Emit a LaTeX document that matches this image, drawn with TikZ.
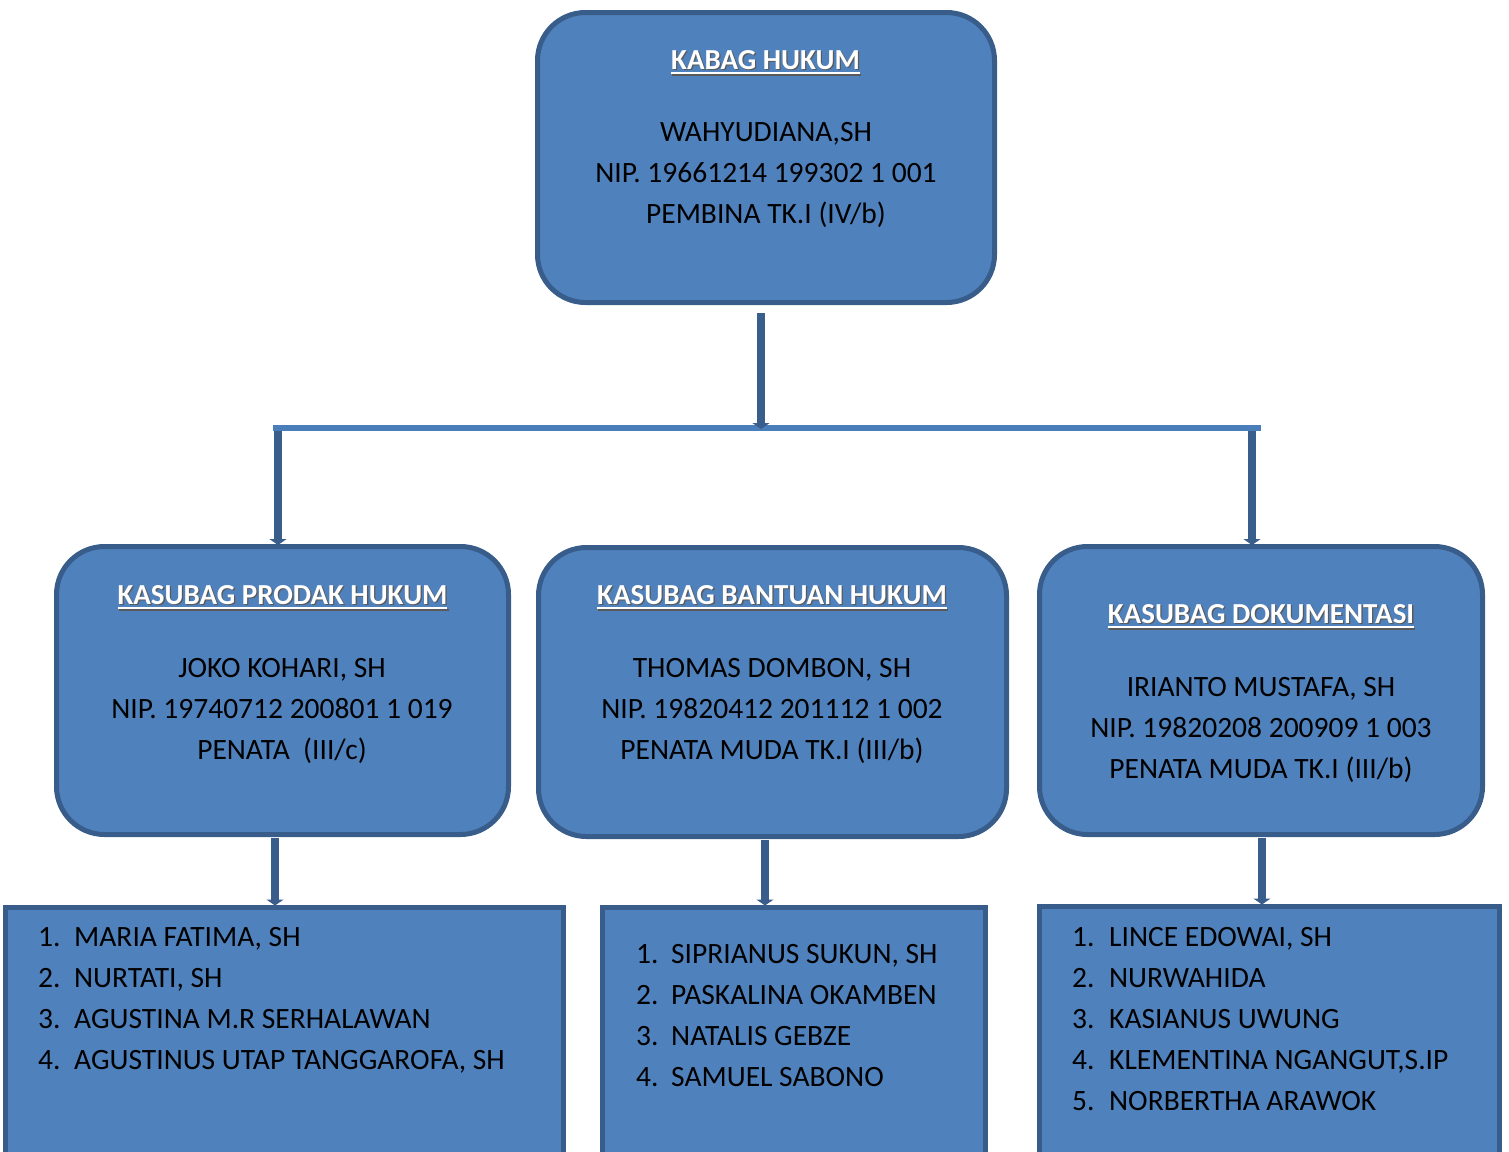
\documentclass[tikz,border=0pt]{standalone}
\usepackage{fontspec}
\setmainfont{Carlito}
\usetikzlibrary{arrows.meta}
\definecolor{boxfill}{HTML}{4F81BD}
\definecolor{boxline}{HTML}{385D8A}
\definecolor{connline}{HTML}{3A5E8B}
\definecolor{hline}{HTML}{4A7EBB}
\newcommand{\myul}[1]{\setbox0\hbox{#1}\rlap{\raisebox{-5pt}{\rule{\wd0}{2pt}}}\box0}
\newcommand{\ttl}[1]{\makebox[0pt][l]{\hspace{1.3pt}\raisebox{-1.3pt}{\color{black!65}\myul{#1}}}{\color{white}\myul{#1}}}
\tikzset{
  rbox/.style={draw=boxline, line width=5pt, fill=boxfill, rounded corners=48pt, inner sep=0pt},
  sbox/.style={draw=boxline, line width=5pt, fill=boxfill, inner sep=0pt},
  txt/.style={font=\fontsize{29.5}{41}\selectfont, align=center, inner sep=0pt, text=black},
  lst/.style={font=\fontsize{29.5}{41}\selectfont, align=left, inner sep=0pt, text=black, anchor=west},
  ttlnode/.style={font=\fontsize{29}{41}\selectfont\bfseries, inner sep=0pt},
  conn/.style={draw=connline, line width=8pt, -{Triangle[width=17pt,length=6pt]}, shorten >=-1pt},
  hbar/.style={draw=hline, line width=6pt}
}
\begin{document}
\begin{tikzpicture}[x=1pt,y=-1pt]
\useasboundingbox (0,0) rectangle (1509,1151);
\clip (0,0) rectangle (1509,1151);
% top box
\node[rbox, minimum width=457pt, minimum height=290pt] (top) at (766,157.5) {};
\node[ttlnode] (topt) at (765.5,63) {\ttl{KABAG HUKUM}};
\node[txt] (topx) at (766,175) {WAHYUDIANA,SH\\NIP. 19661214 199302 1 001\\PEMBINA TK.I (IV/b)};
% middle boxes
\node[rbox, minimum width=452pt, minimum height=288pt] (mL) at (282.5,690.5) {};
\node[rbox, minimum width=468pt, minimum height=289pt] (mC) at (772.5,692) {};
\node[rbox, minimum width=443pt, minimum height=288pt] (mR) at (1261,690.5) {};
\node[ttlnode] (mLt) at (282.5,598) {\ttl{KASUBAG PRODAK HUKUM}};
\node[ttlnode] (mCt) at (772,598) {\ttl{KASUBAG BANTUAN HUKUM}};
\node[ttlnode] (mRt) at (1261,617) {\ttl{KASUBAG DOKUMENTASI}};
\node[txt] (mLx) at (282,711) {JOKO KOHARI, SH\\NIP. 19740712 200801 1 019\\PENATA~ (III/c)};
\node[txt] (mCx) at (772,711) {THOMAS DOMBON, SH\\NIP. 19820412 201112 1 002\\PENATA MUDA TK.I (III/b)};
\node[txt] (mRx) at (1261,730) {IRIANTO MUSTAFA, SH\\NIP. 19820208 200909 1 003\\PENATA MUDA TK.I (III/b)};
% bottom boxes
\node[sbox, minimum width=558pt, minimum height=290pt, anchor=north] (bL) at (284.5,904.5) {};
\node[sbox, minimum width=383pt, minimum height=290pt, anchor=north] (bC) at (794,904.5) {};
\node[sbox, minimum width=460pt, minimum height=290pt, anchor=north] (bR) at (1269.5,903.5) {};
\node[lst] (bLx) at (38,1000) {\makebox[36pt][l]{1.}MARIA FATIMA, SH\\\makebox[36pt][l]{2.}NURTATI, SH\\\makebox[36pt][l]{3.}AGUSTINA M.R SERHALAWAN\\\makebox[36pt][l]{4.}AGUSTINUS UTAP TANGGAROFA, SH};
\node[lst] (bCx) at (636,1016) {\makebox[35pt][l]{1.}SIPRIANUS SUKUN, SH\\\makebox[35pt][l]{2.}PASKALINA OKAMBEN\\\makebox[35pt][l]{3.}NATALIS GEBZE\\\makebox[35pt][l]{4.}SAMUEL SABONO};
\node[lst] (bRx) at (1072,1019.5) {\makebox[37pt][l]{1.}LINCE EDOWAI, SH\\\makebox[37pt][l]{2.}NURWAHIDA\\\makebox[37pt][l]{3.}KASIANUS UWUNG\\\makebox[37pt][l]{4.}KLEMENTINA NGANGUT,S.IP\\\makebox[37pt][l]{5.}NORBERTHA ARAWOK};
% connectors
\coordinate (hL) at (273,428);
\coordinate (hR) at (1261,428);
\coordinate (tS) at (761,313);
\draw[hbar] (hL) -- (hR);
\draw[conn] (tS) -- (tS |- hL);
\coordinate (dL) at (278,431);
\coordinate (dR) at (1252,431);
\draw[conn] (dL) -- (dL |- mL.north);
\draw[conn] (dR) -- (dR |- mR.north);
\coordinate (sL) at (275,838);
\coordinate (sC) at (765,840);
\coordinate (sR) at (1262,838);
\draw[conn] (sL) -- (sL |- bL.north);
\draw[conn] (sC) -- (sC |- bC.north);
\draw[conn] (sR) -- (sR |- bR.north);
\end{tikzpicture}
\end{document}
